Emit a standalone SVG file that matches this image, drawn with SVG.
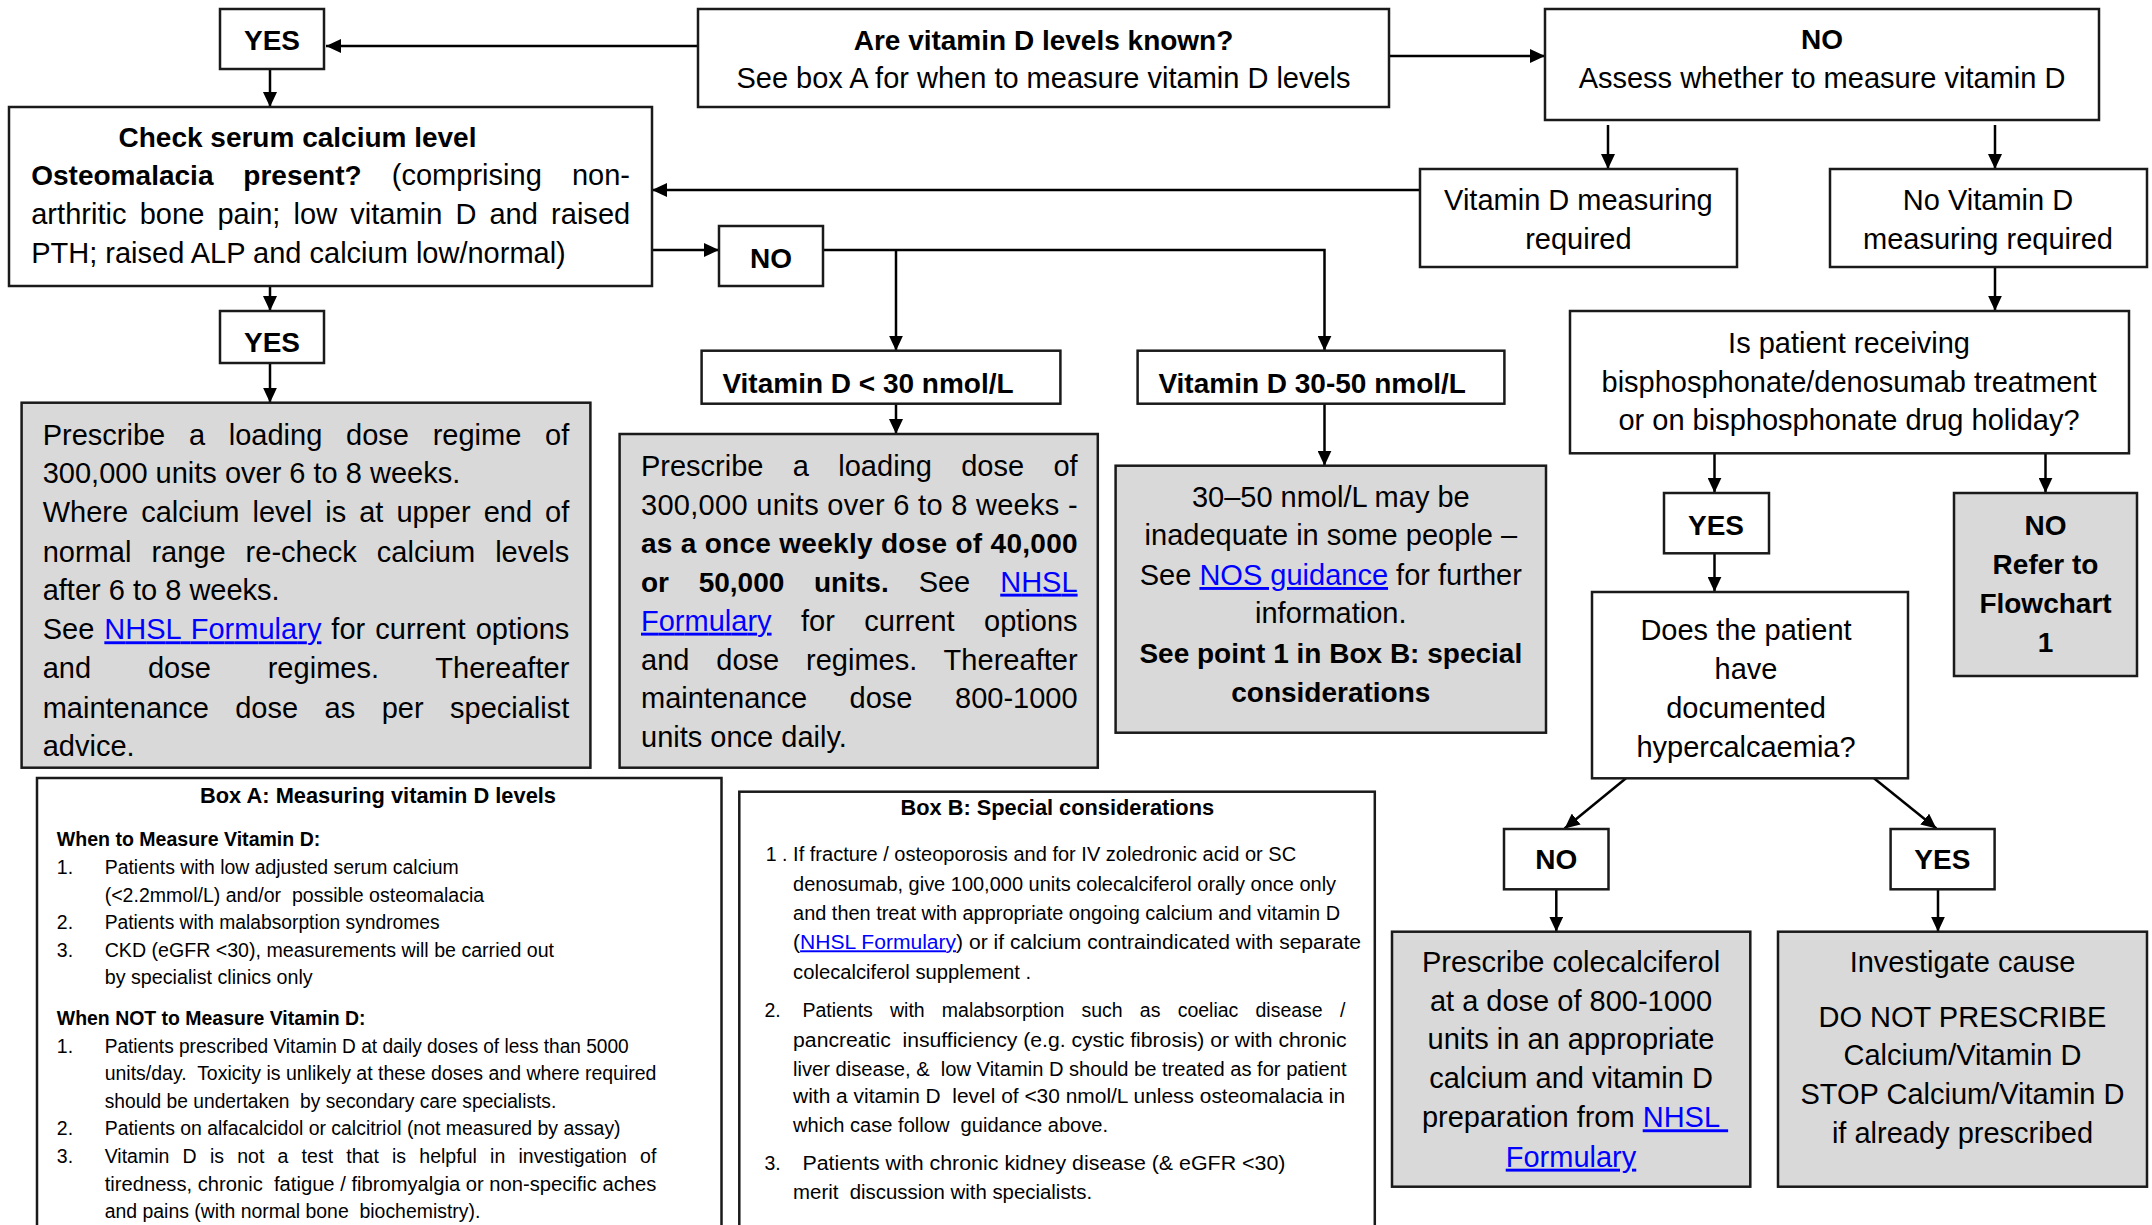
<svg xmlns="http://www.w3.org/2000/svg" width="2152" height="1225" viewBox="0 0 2152 1225">
<defs>
<marker id="ah" markerUnits="userSpaceOnUse" markerWidth="16" markerHeight="14" refX="15" refY="7" orient="auto">
<path d="M0,0 L15,7 L0,14 z" fill="#000"/>
</marker>
<style>
.box{fill:#fff;stroke:#1a1a1a;stroke-width:2.5}
.grey{fill:#d9d9d9;stroke:#1a1a1a;stroke-width:2.5}
text{font-family:"Liberation Sans",Arial,sans-serif;fill:#000}
.t{font-size:29px}
.tb{font-size:28px;font-weight:bold}
.b{font-size:28px;font-weight:bold}
.c{text-anchor:middle}
.sm{font-size:19.5px}
.smb{font-size:19.5px;font-weight:bold}
.ttl{font-size:21.5px;font-weight:bold}
.lk{fill:#0000ff;text-decoration:underline}
#connectors path{fill:none;stroke:#000;stroke-width:2.5;marker-end:url(#ah)}
</style>
</defs>
<rect width="2152" height="1225" fill="#fff"/>

<g id="connectors">
<path d="M698,46 H326"/>
<path d="M1389,56 H1545"/>
<path d="M270,69 V107"/>
<path d="M1608,125 V169"/>
<path d="M1995,125 V169"/>
<path d="M1420,190 H652"/>
<path d="M652,250 H719"/>
<path d="M823,250 H1324.5 V350.7"/>
<path d="M896,250 V350.7"/>
<path d="M270,286 V311"/>
<path d="M270,363 V402.7"/>
<path d="M896,403.7 V434"/>
<path d="M1324.5,403.7 V465.7"/>
<path d="M1995,267 V310.7"/>
<path d="M1714.5,453.3 V492.7"/>
<path d="M2045.5,453.3 V492.7"/>
<path d="M1714.5,553.3 V591.7"/>
<path d="M1626,778.3 L1564.6,828.5"/>
<path d="M1874,778.3 L1936.4,828.5"/>
<path d="M1556.3,889.3 V931.7"/>
<path d="M1938,889.3 V931.7"/>
</g>

<g id="yes1">
<rect class="box" x="220" y="9" width="104" height="60"/>
<text class="tb c" x="272" y="50">YES</text>
</g>

<g id="known">
<rect class="box" x="698" y="9" width="691" height="98"/>
<text class="tb c" x="1043.5" y="50">Are vitamin D levels known?</text>
<text class="t c" x="1043.5" y="88.3">See box A for when to measure vitamin D levels</text>
</g>

<g id="no-assess">
<rect class="box" x="1545" y="9" width="554" height="111"/>
<text class="tb c" x="1822" y="49.3">NO</text>
<text class="t c" x="1822" y="88.3">Assess whether to measure vitamin D</text>
</g>

<g id="check-calcium">
<rect class="box" x="9" y="107" width="643" height="179"/>
<text class="tb" x="118.5" y="146.7">Check serum calcium level</text>
<text class="t" x="31.2" y="185" style="word-spacing:22px" textLength="598.8" lengthAdjust="spacing"><tspan class="b">Osteomalacia present?</tspan> (comprising non-</text>
<text class="t" x="31.2" y="224" style="word-spacing:5px" textLength="599" lengthAdjust="spacing">arthritic bone pain; low vitamin D and raised</text>
<text class="t" x="31.2" y="263">PTH; raised ALP and calcium low/normal)</text>
</g>

<g id="vitd-measuring">
<rect class="box" x="1420" y="169" width="317" height="98"/>
<text class="t c" x="1578.4" y="210">Vitamin D measuring</text>
<text class="t c" x="1578.4" y="249.3">required</text>
</g>

<g id="no-vitd-measuring">
<rect class="box" x="1830" y="169" width="317" height="98"/>
<text class="t c" x="1988" y="210">No Vitamin D</text>
<text class="t c" x="1988" y="249.3">measuring required</text>
</g>

<g id="no2">
<rect class="box" x="719" y="226" width="104" height="60"/>
<text class="tb c" x="771" y="268">NO</text>
</g>

<g id="yes2">
<rect class="box" x="220" y="311" width="104" height="52"/>
<text class="tb c" x="272" y="351.7">YES</text>
</g>

<g id="vitd-lt30">
<rect class="box" x="701.6" y="350.7" width="358.8" height="53"/>
<text class="tb" x="722.4" y="392.7">Vitamin D &lt; 30 nmol/L</text>
</g>

<g id="vitd-30-50">
<rect class="box" x="1137.6" y="350.7" width="366.8" height="53"/>
<text class="tb" x="1158.4" y="392.7">Vitamin D 30-50 nmol/L</text>
</g>

<g id="bisphosphonate">
<rect class="box" x="1570" y="311" width="559" height="142.3"/>
<text class="t c" x="1849" y="353.3">Is patient receiving</text>
<text class="t c" x="1849" y="391.7">bisphosphonate/denosumab treatment</text>
<text class="t c" x="1849" y="430">or on bisphosphonate drug holiday?</text>
</g>

<g id="loading-osteomalacia">
<rect class="grey" x="21.6" y="402.7" width="568.8" height="365"/>
<text class="t" x="42.7" y="445" style="word-spacing:15.7px" textLength="526.6" lengthAdjust="spacing">Prescribe a loading dose regime of</text>
<text class="t" x="42.7" y="483.3">300,000 units over 6 to 8 weeks.</text>
<text class="t" x="42.7" y="522.3" style="word-spacing:5px" textLength="526.6" lengthAdjust="spacing">Where calcium level is at upper end of</text>
<text class="t" x="42.7" y="561.7" style="word-spacing:12px" textLength="526.6" lengthAdjust="spacing">normal range re-check calcium levels</text>
<text class="t" x="42.7" y="600">after 6 to 8 weeks.</text>
<text class="t" x="42.7" y="639.3" style="word-spacing:1.9px" textLength="526.6" lengthAdjust="spacing">See <tspan class="lk">NHSL Formulary</tspan> for current options</text>
<text class="t" x="42.7" y="678.3" style="word-spacing:48.7px" textLength="526.6" lengthAdjust="spacing">and dose regimes. Thereafter</text>
<text class="t" x="42.7" y="717.7" style="word-spacing:18.4px" textLength="526.6" lengthAdjust="spacing">maintenance dose as per specialist</text>
<text class="t" x="42.7" y="756">advice.</text>
</g>

<g id="loading-lt30">
<rect class="grey" x="619.6" y="434" width="478.2" height="333.7"/>
<text class="t" x="641" y="476" style="word-spacing:21.3px" textLength="436.6" lengthAdjust="spacing">Prescribe a loading dose of</text>
<text class="t" x="641" y="515" textLength="436.6" lengthAdjust="spacing">300,000 units over 6 to 8 weeks -</text>
<text class="tb" x="641" y="553.3" textLength="436.6" lengthAdjust="spacing">as a once weekly dose of 40,000</text>
<text class="t" x="641" y="591.7" style="word-spacing:21.9px" textLength="436.6" lengthAdjust="spacing"><tspan class="b">or 50,000 units.</tspan> See <tspan class="lk">NHSL</tspan></text>
<text class="t" x="641" y="630.7" style="word-spacing:21.4px" textLength="436.6" lengthAdjust="spacing"><tspan class="lk">Formulary</tspan> for current options</text>
<text class="t" x="641" y="670" style="word-spacing:18.7px" textLength="436.6" lengthAdjust="spacing">and dose regimes. Thereafter</text>
<text class="t" x="641" y="708.3" style="word-spacing:34.5px" textLength="436.6" lengthAdjust="spacing">maintenance dose 800-1000</text>
<text class="t" x="641" y="746.7">units once daily.</text>
</g>

<g id="inadequate-30-50">
<rect class="grey" x="1115.6" y="465.7" width="430.4" height="267"/>
<text class="t c" x="1330.8" y="506.7">30–50 nmol/L may be</text>
<text class="t c" x="1330.8" y="545">inadequate in some people –</text>
<text class="t c" x="1330.8" y="585">See <tspan class="lk">NOS guidance</tspan> for further</text>
<text class="t c" x="1330.8" y="623.3">information.</text>
<text class="tb c" x="1330.8" y="663.3">See point 1 in Box B: special</text>
<text class="tb c" x="1330.8" y="701.7">considerations</text>
</g>

<g id="yes3">
<rect class="box" x="1664" y="493" width="105" height="60.3"/>
<text class="tb c" x="1716" y="535">YES</text>
</g>

<g id="no-refer">
<rect class="grey" x="1954" y="493" width="183" height="183"/>
<text class="tb c" x="2045.5" y="535">NO</text>
<text class="tb c" x="2045.5" y="574">Refer to</text>
<text class="tb c" x="2045.5" y="612.7">Flowchart</text>
<text class="tb c" x="2045.5" y="651.7">1</text>
</g>

<g id="hypercalcaemia">
<rect class="box" x="1592" y="592" width="316" height="186.3"/>
<text class="t c" x="1746" y="640">Does the patient</text>
<text class="t c" x="1746" y="679.3">have</text>
<text class="t c" x="1746" y="718.3">documented</text>
<text class="t c" x="1746" y="756.7">hypercalcaemia?</text>
</g>

<g id="no4">
<rect class="box" x="1504" y="829" width="104.5" height="60.3"/>
<text class="tb c" x="1556.3" y="869.3">NO</text>
</g>

<g id="yes4">
<rect class="box" x="1890.6" y="829" width="104" height="60.3"/>
<text class="tb c" x="1942.3" y="869.3">YES</text>
</g>

<g id="prescribe-colecalciferol">
<rect class="grey" x="1392" y="931.7" width="358.3" height="255"/>
<text class="t c" x="1571" y="971.7">Prescribe colecalciferol</text>
<text class="t c" x="1571" y="1010.7">at a dose of 800-1000</text>
<text class="t c" x="1571" y="1049.3">units in an appropriate</text>
<text class="t c" x="1571" y="1088.3">calcium and vitamin D</text>
<text class="t c" x="1575" y="1127.3">preparation from <tspan class="lk">NHSL&#160;</tspan></text>
<text class="t c" x="1571" y="1166.7"><tspan class="lk">Formulary</tspan></text>
</g>

<g id="investigate-cause">
<rect class="grey" x="1778" y="931.7" width="369" height="255"/>
<text class="t c" x="1962.5" y="971.7">Investigate cause</text>
<text class="t c" x="1962.5" y="1026.7">DO NOT PRESCRIBE</text>
<text class="t c" x="1962.5" y="1065">Calcium/Vitamin D</text>
<text class="t c" x="1962.5" y="1104.3">STOP Calcium/Vitamin D</text>
<text class="t c" x="1962.5" y="1143.3">if already prescribed</text>
</g>

<g id="box-a">
<rect class="box" x="37" y="778" width="684.5" height="470"/>
<text class="ttl" x="200" y="802.7" textLength="356" lengthAdjust="spacingAndGlyphs">Box A: Measuring vitamin D levels</text>
<text class="smb" x="56.8" y="846" textLength="263.5" lengthAdjust="spacingAndGlyphs">When to Measure Vitamin D:</text>
<text class="sm" x="56.8" y="874">1.</text>
<text class="sm" x="104.7" y="874" textLength="354" lengthAdjust="spacingAndGlyphs">Patients with low adjusted serum calcium</text>
<text class="sm" x="104.7" y="901.7" style="white-space:pre" textLength="379.5" lengthAdjust="spacingAndGlyphs">(&lt;2.2mmol/L) and/or  possible osteomalacia</text>
<text class="sm" x="56.8" y="929.3">2.</text>
<text class="sm" x="104.7" y="929.3" textLength="335" lengthAdjust="spacingAndGlyphs">Patients with malabsorption syndromes</text>
<text class="sm" x="56.8" y="957.3">3.</text>
<text class="sm" x="104.7" y="957.3" textLength="449.3" lengthAdjust="spacingAndGlyphs">CKD (eGFR &lt;30), measurements will be carried out</text>
<text class="sm" x="104.7" y="984" textLength="208" lengthAdjust="spacingAndGlyphs">by specialist clinics only</text>
<text class="smb" x="56.8" y="1025" textLength="308.7" lengthAdjust="spacingAndGlyphs">When NOT to Measure Vitamin D:</text>
<text class="sm" x="56.8" y="1052.7">1.</text>
<text class="sm" x="104.7" y="1052.7" textLength="524" lengthAdjust="spacingAndGlyphs">Patients prescribed Vitamin D at daily doses of less than 5000</text>
<text class="sm" x="104.7" y="1080" style="white-space:pre" textLength="551.7" lengthAdjust="spacingAndGlyphs">units/day.  Toxicity is unlikely at these doses and where required</text>
<text class="sm" x="104.7" y="1107.7" style="white-space:pre" textLength="451.6" lengthAdjust="spacingAndGlyphs">should be undertaken  by secondary care specialists.</text>
<text class="sm" x="56.8" y="1135">2.</text>
<text class="sm" x="104.7" y="1135" textLength="515.9" lengthAdjust="spacingAndGlyphs">Patients on alfacalcidol or calcitriol (not measured by assay)</text>
<text class="sm" x="56.8" y="1162.7">3.</text>
<text class="sm" x="104.7" y="1162.7" style="word-spacing:7.8px" textLength="551.7" lengthAdjust="spacing">Vitamin D is not a test that is helpful in investigation of</text>
<text class="sm" x="104.7" y="1190.7" style="white-space:pre" textLength="551.7" lengthAdjust="spacingAndGlyphs">tiredness, chronic  fatigue / fibromyalgia or non-specific aches</text>
<text class="sm" x="104.7" y="1218.3" style="white-space:pre" textLength="375.7" lengthAdjust="spacingAndGlyphs">and pains (with normal bone  biochemistry).</text>
</g>

<g id="box-b">
<rect class="box" x="739.3" y="791.7" width="635.5" height="460"/>
<text class="ttl" x="900.5" y="815" textLength="313.6" lengthAdjust="spacingAndGlyphs">Box B: Special considerations</text>
<text class="sm" x="765.8" y="860.7">1 .</text>
<text class="sm" x="793.1" y="860.7" textLength="503" lengthAdjust="spacingAndGlyphs">If fracture / osteoporosis and for IV zoledronic acid or SC</text>
<text class="sm" x="793.1" y="890.7" textLength="543" lengthAdjust="spacingAndGlyphs">denosumab, give 100,000 units colecalciferol orally once only</text>
<text class="sm" x="793.1" y="920" textLength="547" lengthAdjust="spacingAndGlyphs">and then treat with appropriate ongoing calcium and vitamin D</text>
<text class="sm" x="793.1" y="949.3" textLength="568" lengthAdjust="spacingAndGlyphs">(<tspan class="lk">NHSL Formulary</tspan>) or if calcium contraindicated with separate</text>
<text class="sm" x="793.1" y="979.3" textLength="238" lengthAdjust="spacingAndGlyphs">colecalciferol supplement .</text>
<text class="sm" x="764.5" y="1017.3">2.</text>
<text class="sm" x="802.4" y="1017.3" style="word-spacing:11.8px" textLength="542.9" lengthAdjust="spacing">Patients with malabsorption such as coeliac disease /</text>
<text class="sm" x="793.1" y="1046.7" style="white-space:pre" textLength="553.5" lengthAdjust="spacingAndGlyphs">pancreatic  insufficiency (e.g. cystic fibrosis) or with chronic</text>
<text class="sm" x="793.1" y="1076" style="white-space:pre" textLength="553.5" lengthAdjust="spacingAndGlyphs">liver disease, &amp;  low Vitamin D should be treated as for patient</text>
<text class="sm" x="793.1" y="1103.3" style="white-space:pre" textLength="552" lengthAdjust="spacingAndGlyphs">with a vitamin D  level of &lt;30 nmol/L unless osteomalacia in</text>
<text class="sm" x="793.1" y="1131.7" style="white-space:pre" textLength="315" lengthAdjust="spacingAndGlyphs">which case follow  guidance above.</text>
<text class="sm" x="764.5" y="1170">3.</text>
<text class="sm" x="802.4" y="1170" textLength="483" lengthAdjust="spacingAndGlyphs">Patients with chronic kidney disease (&amp; eGFR &lt;30)</text>
<text class="sm" x="793.1" y="1199.3" style="white-space:pre" textLength="299" lengthAdjust="spacingAndGlyphs">merit  discussion with specialists.</text>
</g>
</svg>
